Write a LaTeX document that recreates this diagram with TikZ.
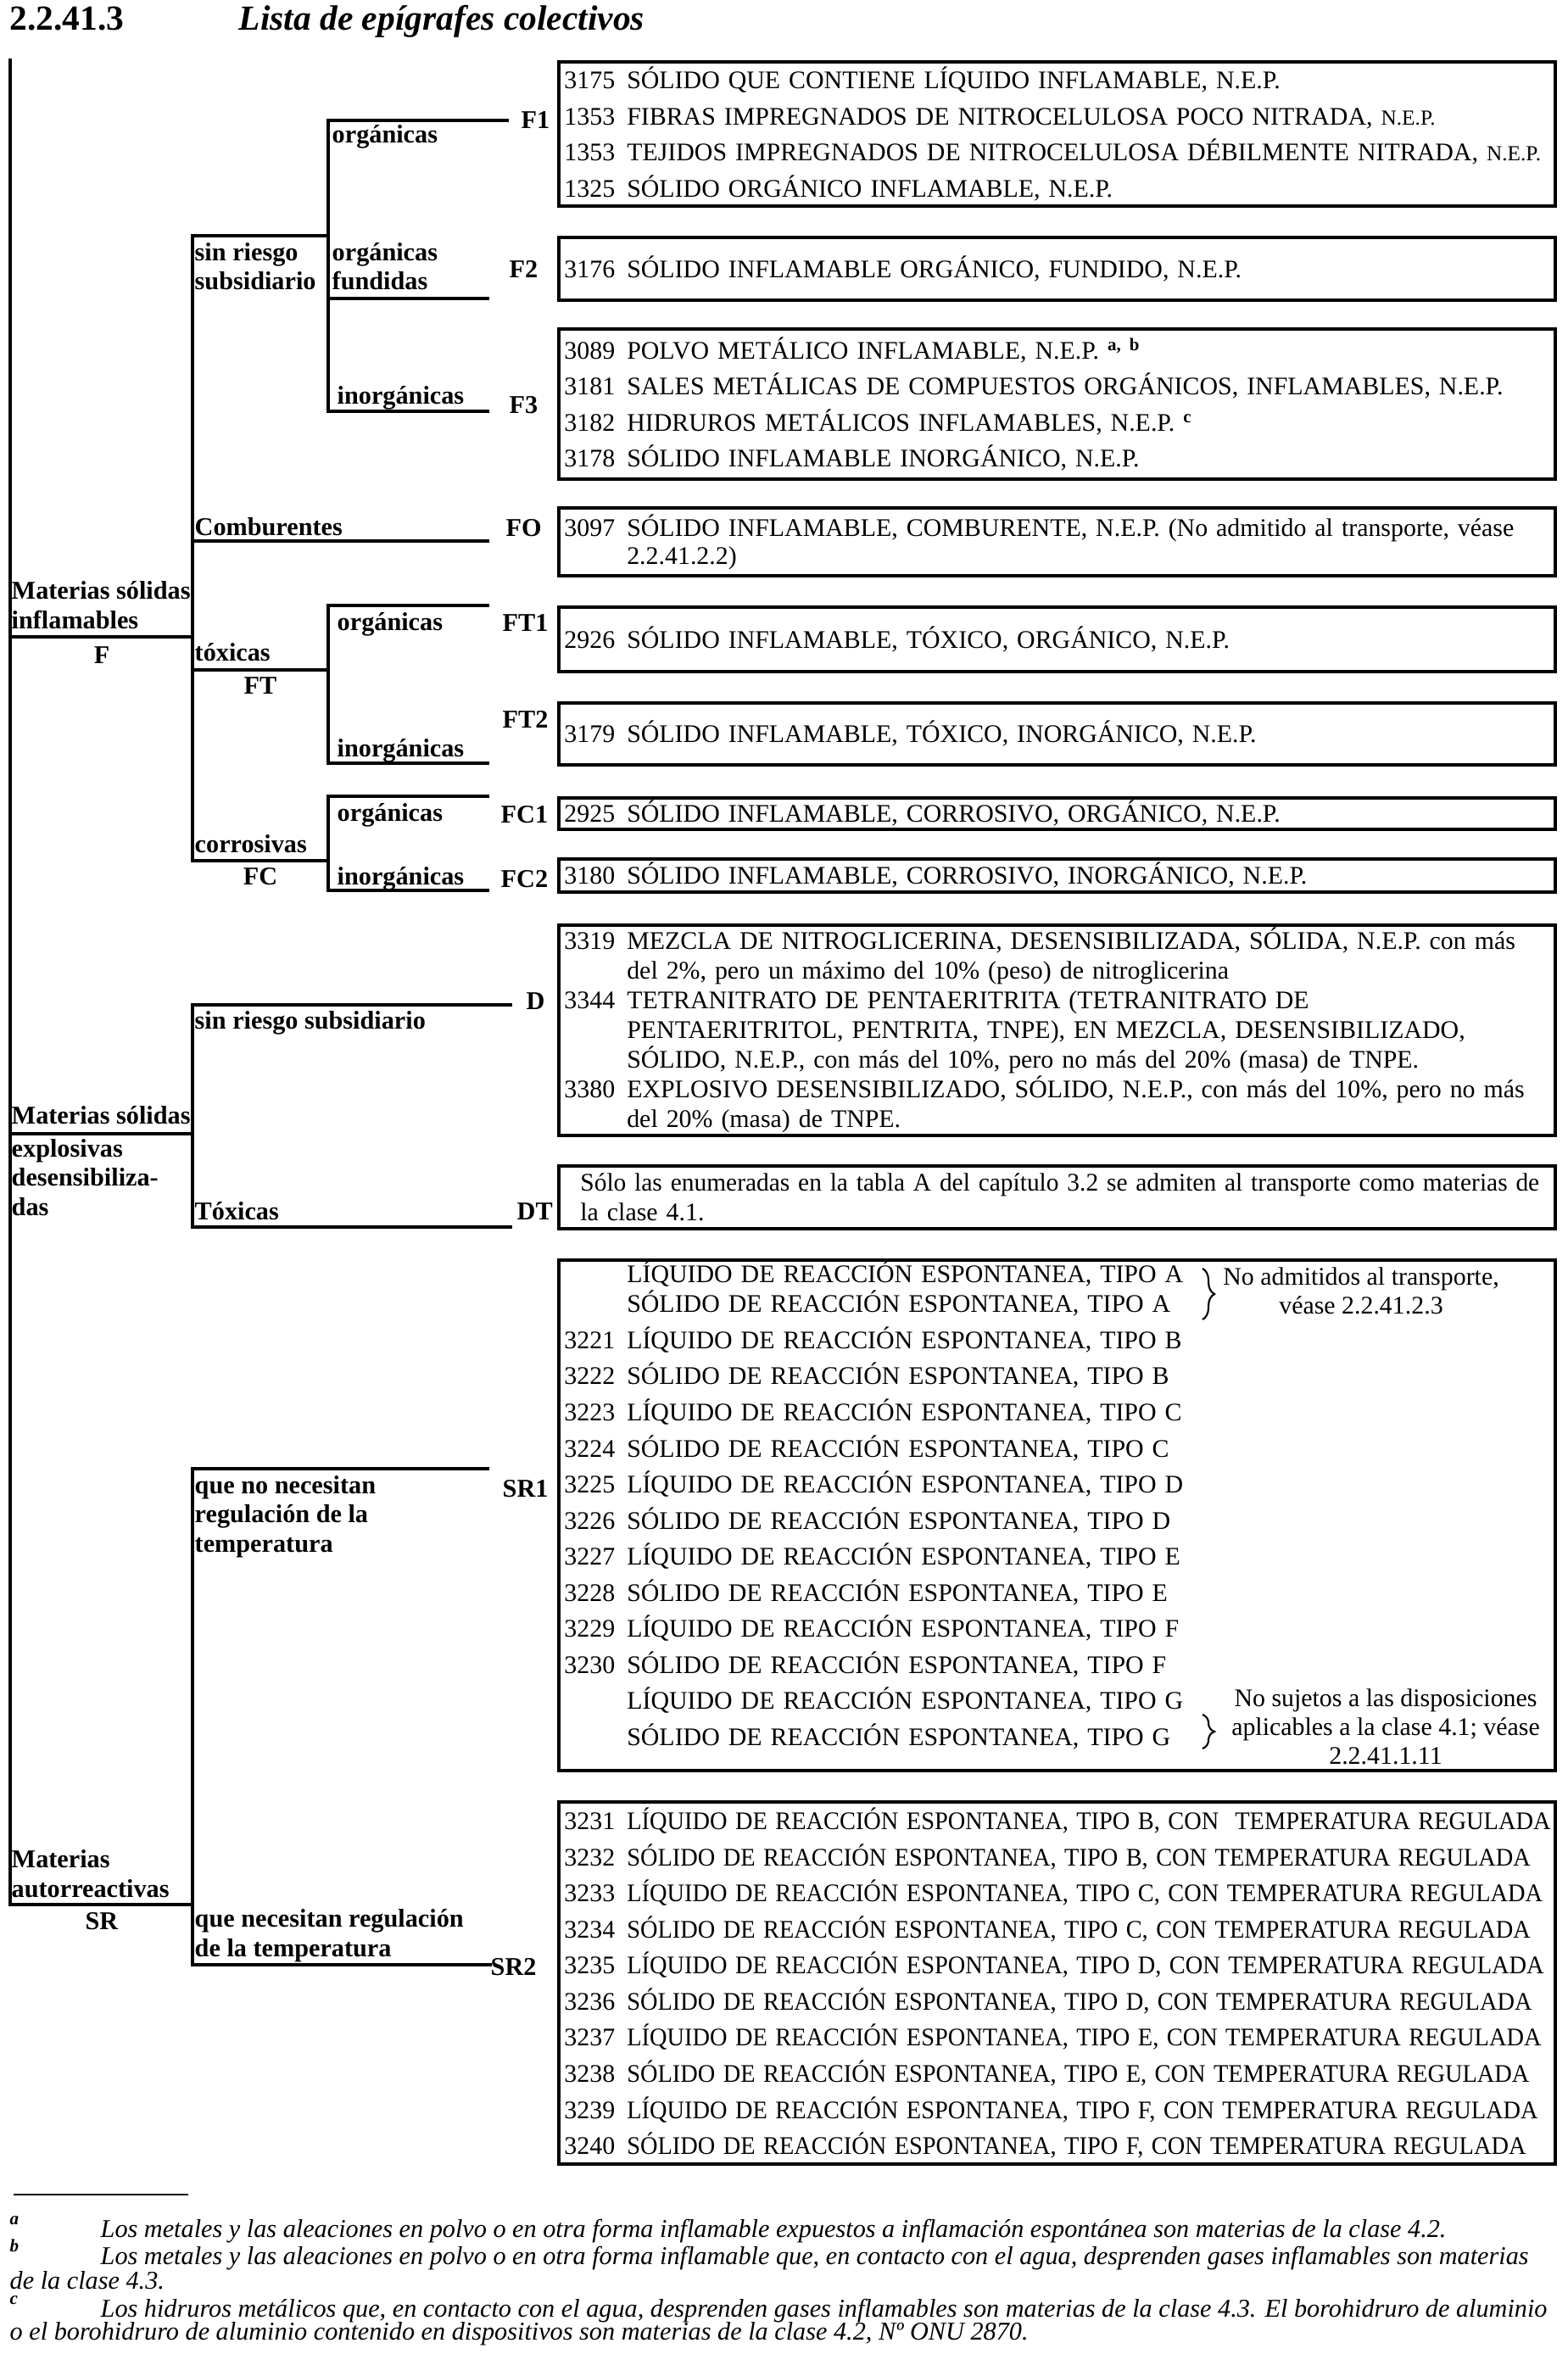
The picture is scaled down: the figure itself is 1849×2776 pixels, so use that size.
\documentclass[tikz,border=0pt]{standalone}
\usepackage{fontspec}
\usepackage{graphicx}
\setmainfont{Liberation Serif}
\usetikzlibrary{decorations.pathreplacing}

\newcommand{\cod}[1]{\makebox[21pt][l]{#1}}
\newcommand{\catline}[2]{\mbox{\cod{#1}#2}}
\newcommand{\sqline}[2]{\mbox{\cod{#1}\scalebox{0.95}[1]{#2}}}
\newcommand{\smallnep}{{\fontsize{7.2}{8}\selectfont N.E.P.}}

\tikzset{
  treeline/.style={line width=1pt, line cap=rect},
  catbox/.style={draw, line width=1.1pt, anchor=north west, inner xsep=0.065cm, inner ysep=0pt,
    text width=11.61cm, align=left, font=\fontsize{8.5}{12.1}\selectfont},
  branch/.style={anchor=base west, inner sep=0pt, align=left, font=\fontsize{8.6}{9.8}\selectfont\bfseries},
  codelab/.style={anchor=base west, inner sep=0pt, font=\fontsize{8.6}{9.8}\selectfont\bfseries},
  sublab/.style={anchor=base, inner sep=0pt, font=\fontsize{8.6}{9.8}\selectfont\bfseries},
  notetext/.style={align=center, inner sep=0pt, font=\fontsize{8.5}{9.7}\selectfont},
  notebrace/.style={decorate, decoration={brace, amplitude=4pt}, line width=0.6pt},
  fntext/.style={anchor=base west, inner sep=0pt, font=\fontsize{8.6}{8.2}\selectfont\itshape},
  fnmark/.style={anchor=base west, inner sep=0pt, font=\fontsize{6}{7}\selectfont\bfseries\itshape},
}

\begin{document}
\begin{tikzpicture}[x=0.01cm, y=-0.01cm]
\fill[white, use as bounding box] (0,0) rectangle (1849,2776);

% titulo
\node[anchor=base west, inner sep=0pt, font=\fontsize{11.8}{14}\selectfont\bfseries] (num) at (11,36) {2.2.41.3};
\node[anchor=base west, inner sep=0pt, font=\fontsize{11.8}{14}\selectfont\bfseries\itshape] (title) at (281,36) {Lista de epígrafes colectivos};

% puntos del arbol
\foreach \n/\x/\y in {r0/12/71, rF/12/751, rD/12/1337, rS/12/2246,
    aF/227/751, aD/227/1337, aS/227/2246,
    s1/227/278, s2/227/638, s3/227/790, s4/227/1015,
    d1/227/1185, d2/227/1447, q1/227/1732, q2/227/2317,
    t1/387/278, t2/387/790, t3/387/1015,
    u1/387/142, u2/387/352, u3/387/485, u4/387/714, u5/387/900, u6/387/939, u7/387/1050,
    e1/598/142, e2/575/352, e3/575/485, eO/575/638, e4/575/714, e5/575/900, e6/575/939, e7/575/1050,
    eD/602/1185, eT/602/1447, eS1/575/1732, eS2/578/2317}
  \coordinate (\n) at (\x,\y);

\draw[treeline] (r0) -- (rS) (s1) -- (s4) (d1) -- (d2) (q1) -- (q2)
  (u1) -- (u3) (u4) -- (u5) (u6) -- (u7);
\draw[treeline] (rF) -- (aF) (rD) -- (aD) (rS) -- (aS)
  (s1) -- (t1) (s2) -- (eO) (s3) -- (t2) (s4) -- (t3)
  (d1) -- (eD) (d2) -- (eT) (q1) -- (eS1) (q2) -- (eS2)
  (u1) -- (e1) (u2) -- (e2) (u3) -- (e3) (u4) -- (e4)
  (u5) -- (e5) (u6) -- (e6) (u7) -- (e7);

% ramas (base = ultima linea)
\node[branch] (lFa) at (13,741) {Materias sólidas\\inflamables};
\node[sublab] (lF) at (120,782) {F};
\node[branch] (lsr) at (229,342) {sin riesgo\\subsidiario};
\node[branch] (lorg) at (391,169) {orgánicas};
\node[branch] (lfun) at (391,342) {orgánicas\\fundidas};
\node[branch] (linorg) at (397,476) {inorgánicas};
\node[branch] (lcomb) at (229,631) {Comburentes};
\node[branch] (lorgT) at (397,743) {orgánicas};
\node[branch] (ltox) at (229,779) {tóxicas};
\node[sublab] (lFT) at (307,818) {FT};
\node[branch] (linorgT) at (397,892) {inorgánicas};
\node[branch] (lorgC) at (397,968) {orgánicas};
\node[branch] (lcorr) at (229,1005) {corrosivas};
\node[sublab] (lFC) at (307,1043) {FC};
\node[branch] (linorgC) at (397,1043) {inorgánicas};
\node[branch] (lDa) at (13,1325) {Materias sólidas};
\node[branch] (lDb) at (13,1433) {explosivas\\desensibiliza-\\das};
\node[branch] (lsrD) at (229,1213) {sin riesgo subsidiario};
\node[branch] (ltoxD) at (229,1438) {Tóxicas};
\node[branch] (lq1) at (229,1830) {que no necesitan\\regulación de la\\temperatura};
\node[branch] (lSa) at (13,2237) {Materias\\autorreactivas};
\node[sublab] (lSR) at (120,2275) {SR};
\node[branch] (lq2) at (229,2307) {que necesitan regulación\\de la temperatura};

% codigos
\node[codelab] (cF1) at (614,152) {F1};
\node[codelab] (cF2) at (600,328) {F2};
\node[codelab] (cF3) at (600,487) {F3};
\node[codelab] (cFO) at (596,632) {FO};
\node[codelab] (cFT1) at (592,744) {FT1};
\node[codelab] (cFT2) at (592,858) {FT2};
\node[codelab] (cFC1) at (590,970) {FC1};
\node[codelab] (cFC2) at (590,1046) {FC2};
\node[codelab] (cD) at (620,1190) {D};
\node[codelab] (cDT) at (609,1438) {DT};
\node[codelab] (cSR1) at (592,1765) {SR1};
\node[codelab] (cSR2) at (578,2329) {SR2};

% cajas
\node[catbox, minimum height=1.70cm] (bF1) at (657,71) {%
\catline{3175}{SÓLIDO QUE CONTIENE LÍQUIDO INFLAMABLE, N.E.P.}\\
\catline{1353}{FIBRAS IMPREGNADOS DE NITROCELULOSA POCO NITRADA, \smallnep}\\
\catline{1353}{TEJIDOS IMPREGNADOS DE NITROCELULOSA DÉBILMENTE NITRADA, \smallnep}\\
\catline{1325}{SÓLIDO ORGÁNICO INFLAMABLE, N.E.P.}};
\node[catbox, minimum height=0.74cm] (bF2) at (657,278) {%
\catline{3176}{SÓLIDO INFLAMABLE ORGÁNICO, FUNDIDO, N.E.P.}};
\node[catbox, minimum height=1.77cm] (bF3) at (657,386) {%
\catline{3089}{POLVO METÁLICO INFLAMABLE, N.E.P. \textsuperscript{\bfseries a, b}}\\
\catline{3181}{SALES METÁLICAS DE COMPUESTOS ORGÁNICOS, INFLAMABLES, N.E.P.}\\
\catline{3182}{HIDRUROS METÁLICOS INFLAMABLES, N.E.P. \textsuperscript{\bfseries c}}\\
\catline{3178}{SÓLIDO INFLAMABLE INORGÁNICO, N.E.P.}};
\node[catbox, minimum height=0.80cm, font=\fontsize{8.5}{9.4}\selectfont] (bFO) at (657,597) {%
\catline{3097}{SÓLIDO INFLAMABLE, COMBURENTE, N.E.P. (No admitido al transporte, véase}\\
\catline{}{2.2.41.2.2)}};
\node[catbox, minimum height=0.76cm] (bFT1) at (657,714) {%
\catline{2926}{SÓLIDO INFLAMABLE, TÓXICO, ORGÁNICO, N.E.P.}};
\node[catbox, minimum height=0.73cm] (bFT2) at (657,827) {%
\catline{3179}{SÓLIDO INFLAMABLE, TÓXICO, INORGÁNICO, N.E.P.}};
\node[catbox, minimum height=0.37cm] (bFC1) at (657,939) {%
\catline{2925}{SÓLIDO INFLAMABLE, CORROSIVO, ORGÁNICO, N.E.P.}};
\node[catbox, minimum height=0.39cm] (bFC2) at (657,1011) {%
\catline{3180}{SÓLIDO INFLAMABLE, CORROSIVO, INORGÁNICO, N.E.P.}};
\node[catbox, minimum height=2.48cm, font=\fontsize{8.5}{9.96}\selectfont] (bD) at (657,1089) {%
\catline{3319}{MEZCLA DE NITROGLICERINA, DESENSIBILIZADA, SÓLIDA, N.E.P. con más}\\
\catline{}{del 2\%, pero un máximo del 10\% (peso) de nitroglicerina}\\
\catline{3344}{TETRANITRATO DE PENTAERITRITA (TETRANITRATO DE}\\
\catline{}{PENTAERITRITOL, PENTRITA, TNPE), EN MEZCLA, DESENSIBILIZADO,}\\
\catline{}{SÓLIDO, N.E.P., con más del 10\%, pero no más del 20\% (masa) de TNPE.}\\
\catline{3380}{EXPLOSIVO DESENSIBILIZADO, SÓLIDO, N.E.P., con más del 10\%, pero no más}\\
\catline{}{del 20\% (masa) de TNPE.}};
\node[catbox, minimum height=0.74cm, font=\fontsize{8.5}{9.96}\selectfont] (bDT) at (657,1373) {%
\mbox{\hspace*{5.4pt}\scalebox{0.985}[1]{Sólo las enumeradas en la tabla A del capítulo 3.2 se admiten al transporte como materias de}}\\
\mbox{\hspace*{5.4pt}la clase 4.1.}};
\node[catbox, minimum height=6.02cm] (bSR1) at (657,1484) {%
\catline{}{LÍQUIDO DE REACCIÓN ESPONTANEA, TIPO A}\\[-2pt]
\catline{}{SÓLIDO DE REACCIÓN ESPONTANEA, TIPO A}\\
\catline{3221}{LÍQUIDO DE REACCIÓN ESPONTANEA, TIPO B}\\
\catline{3222}{SÓLIDO DE REACCIÓN ESPONTANEA, TIPO B}\\
\catline{3223}{LÍQUIDO DE REACCIÓN ESPONTANEA, TIPO C}\\
\catline{3224}{SÓLIDO DE REACCIÓN ESPONTANEA, TIPO C}\\
\catline{3225}{LÍQUIDO DE REACCIÓN ESPONTANEA, TIPO D}\\
\catline{3226}{SÓLIDO DE REACCIÓN ESPONTANEA, TIPO D}\\
\catline{3227}{LÍQUIDO DE REACCIÓN ESPONTANEA, TIPO E}\\
\catline{3228}{SÓLIDO DE REACCIÓN ESPONTANEA, TIPO E}\\
\catline{3229}{LÍQUIDO DE REACCIÓN ESPONTANEA, TIPO F}\\
\catline{3230}{SÓLIDO DE REACCIÓN ESPONTANEA, TIPO F}\\
\catline{}{LÍQUIDO DE REACCIÓN ESPONTANEA, TIPO G}\\
\catline{}{SÓLIDO DE REACCIÓN ESPONTANEA, TIPO G}\\[-3.8pt]
\mbox{}};
\node[catbox, minimum height=4.27cm] (bSR2) at (657,2123) {%
\sqline{3231}{LÍQUIDO DE REACCIÓN ESPONTANEA, TIPO B, CON~ TEMPERATURA REGULADA}\\
\sqline{3232}{SÓLIDO DE REACCIÓN ESPONTANEA, TIPO B, CON TEMPERATURA REGULADA}\\
\sqline{3233}{LÍQUIDO DE REACCIÓN ESPONTANEA, TIPO C, CON TEMPERATURA REGULADA}\\
\sqline{3234}{SÓLIDO DE REACCIÓN ESPONTANEA, TIPO C, CON TEMPERATURA REGULADA}\\
\sqline{3235}{LÍQUIDO DE REACCIÓN ESPONTANEA, TIPO D, CON TEMPERATURA REGULADA}\\
\sqline{3236}{SÓLIDO DE REACCIÓN ESPONTANEA, TIPO D, CON TEMPERATURA REGULADA}\\
\sqline{3237}{LÍQUIDO DE REACCIÓN ESPONTANEA, TIPO E, CON TEMPERATURA REGULADA}\\
\sqline{3238}{SÓLIDO DE REACCIÓN ESPONTANEA, TIPO E, CON TEMPERATURA REGULADA}\\
\sqline{3239}{LÍQUIDO DE REACCIÓN ESPONTANEA, TIPO F, CON TEMPERATURA REGULADA}\\
\sqline{3240}{SÓLIDO DE REACCIÓN ESPONTANEA, TIPO F, CON TEMPERATURA REGULADA}};

% notas de SR1
\node[notetext] (nA) at (1605,1522) {No admitidos al transporte,\\véase 2.2.41.2.3};
\node[notetext] (nG) at (1634,2036) {No sujetos a las disposiciones\\aplicables a la clase 4.1; véase\\2.2.41.1.11};
\draw[notebrace] (1418,1496) -- (1418,1556);
\draw[notebrace] (1418,2022) -- (1418,2062);

% notas al pie
\draw[line width=0.8pt] (16,2588) -- (222,2588);
\node[fnmark] (ma) at (11,2623) {a};
\node[fntext] (fa) at (118,2638) {Los metales y las aleaciones en polvo o en otra forma inflamable expuestos a inflamación espontánea son materias de la clase 4.2.};
\node[fnmark] (mb) at (11,2655) {b};
\node[fntext] (fb) at (118,2670) {Los metales y las aleaciones en polvo o en otra forma inflamable que, en contacto con el agua, desprenden gases inflamables son materias};
\node[fntext] (fb2) at (11,2699) {de la clase 4.3.};
\node[fnmark] (mc) at (11,2717) {c};
\node[fntext] (fc) at (118,2732) {Los hidruros metálicos que, en contacto con el agua, desprenden gases inflamables son materias de la clase 4.3. El borohidruro de aluminio};
\node[fntext] (fc2) at (11,2759) {o el borohidruro de aluminio contenido en dispositivos son materias de la clase 4.2, Nº ONU 2870.};
\end{tikzpicture}
\end{document}
